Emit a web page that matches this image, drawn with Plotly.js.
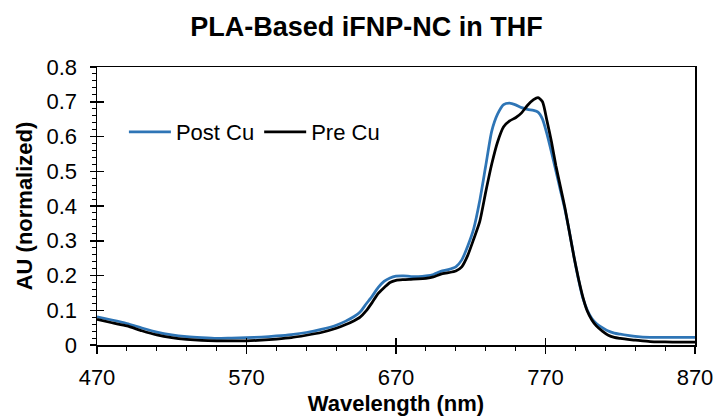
<!DOCTYPE html>
<html>
<head>
<meta charset="utf-8">
<script src="https://cdn.plot.ly/plotly-3.0.1.min.js"></script>
<style>html,body{margin:0;padding:0;background:#fff;}#chart{width:715px;height:418px;}</style>
</head>
<body>
<div id="chart"></div>
<script>
const wavelength = [470,480,490,500,510,520,530,540,550,560,570,580,590,600,610,620,630,636,642,646,650,654,658,662,666,670,675,680,685,690,695,700,705,710,714,718,722,726,730,734,738,742,746,750,754,758,762,765,768,771,774,777,780,783,786,789,792,795,798,801,804,808,812,816,820,825,830,840,850,860,870];
const postCu = [0.081,0.072,0.062,0.049,0.037,0.029,0.024,0.021,0.019,0.020,0.021,0.023,0.026,0.030,0.036,0.045,0.057,0.068,0.082,0.095,0.118,0.140,0.165,0.183,0.193,0.198,0.199,0.197,0.197,0.199,0.203,0.212,0.217,0.225,0.245,0.285,0.335,0.415,0.515,0.615,0.665,0.692,0.696,0.691,0.683,0.678,0.675,0.670,0.650,0.607,0.555,0.500,0.445,0.390,0.325,0.255,0.190,0.135,0.100,0.076,0.062,0.050,0.040,0.034,0.031,0.028,0.025,0.022,0.022,0.022,0.022];
const preCu = [0.074,0.064,0.055,0.041,0.029,0.021,0.016,0.013,0.012,0.012,0.012,0.014,0.017,0.021,0.028,0.036,0.048,0.058,0.070,0.080,0.098,0.122,0.148,0.165,0.180,0.186,0.188,0.189,0.190,0.192,0.196,0.204,0.208,0.213,0.225,0.258,0.305,0.355,0.440,0.520,0.585,0.628,0.645,0.654,0.668,0.690,0.706,0.712,0.700,0.645,0.585,0.515,0.455,0.395,0.325,0.255,0.192,0.138,0.097,0.072,0.055,0.040,0.028,0.022,0.019,0.016,0.014,0.010,0.009,0.008,0.008];
const seriesNames = ["Post Cu","Pre Cu"];
const xTicks = [470,570,670,770,870];
const yTicks = [0,0.1,0.2,0.3,0.4,0.5,0.6,0.7,0.8];
const yTickText = ["0","0.1","0.2","0.3","0.4","0.5","0.6","0.7","0.8"];

const FONT = "Liberation Sans, Arial, sans-serif";
const traces = [
  {x: wavelength, y: postCu, name: seriesNames[0], type: "scatter", mode: "lines",
   line: {color: "#2E75B6", width: 2.75, shape: "spline", smoothing: 0.6}},
  {x: wavelength, y: preCu, name: seriesNames[1], type: "scatter", mode: "lines",
   line: {color: "#000000", width: 2.75, shape: "spline", smoothing: 0.6}}
];
const layout = {
  width: 715, height: 418,
  margin: {l: 97, r: 20, t: 67, b: 73},
  paper_bgcolor: "#fff", plot_bgcolor: "#fff",
  font: {family: FONT, size: 22, color: "#000"},
  title: {text: "<b>PLA-Based iFNP-NC in THF</b>", font: {family: FONT, size: 27, color: "#000"},
          x: 0.5126, xanchor: "center", y: 0.937, yanchor: "middle"},
  showlegend: true,
  legend: {orientation: "h", x: 0.045, y: 0.766, xanchor: "left", yanchor: "middle", itemwidth: 42,
           font: {family: FONT, size: 22, color: "#000"}, bgcolor: "rgba(0,0,0,0)", traceorder: "normal"},
  xaxis: {range: [470, 870], tickmode: "array", tickvals: xTicks, ticktext: xTicks.map(String),
          ticks: "outside", ticklen: 7, tickwidth: 1.5, tickcolor: "#000",
          showline: true, linecolor: "#000", linewidth: 1.5, mirror: true,
          showgrid: false, zeroline: false, ticklabelstandoff: 5,
          minor: {dtick: 20, tick0: 470, ticks: "outside", ticklen: 4, tickwidth: 1, tickcolor: "#000", showgrid: false},
          title: {text: "<b>Wavelength (nm)</b>", font: {family: FONT, size: 22, color: "#000"}, standoff: 6}},
  yaxis: {range: [0, 0.8], tickmode: "array", tickvals: yTicks, ticktext: yTickText,
          ticks: "outside", ticklen: 6, tickwidth: 1.5, tickcolor: "#000",
          showline: true, linecolor: "#000", linewidth: 1.5, mirror: true,
          showgrid: false, zeroline: false, ticklabelstandoff: 8,
          minor: {dtick: 0.02, tick0: 0, ticks: "outside", ticklen: 4, tickwidth: 1, tickcolor: "#000", showgrid: false},
          title: {text: "<b>AU (normalized)</b>", font: {family: FONT, size: 22, color: "#000"}, standoff: 8}},
  xaxis2: {overlaying: "x", range: [470, 870], tickmode: "array", tickvals: xTicks, showticklabels: false,
           ticks: "inside", ticklen: 7, tickwidth: 1.5, tickcolor: "#000", showline: false, showgrid: false, zeroline: false},
  yaxis2: {overlaying: "y", side: "left", range: [0, 0.8], tickmode: "array", tickvals: yTicks, showticklabels: false,
           ticks: "inside", ticklen: 7, tickwidth: 1.5, tickcolor: "#000", showline: false, showgrid: false, zeroline: false}
};
traces.push({x: [470], y: [0], xaxis: "x2", yaxis: "y2", mode: "markers", marker: {opacity: 0}, showlegend: false, hoverinfo: "skip"});
Plotly.newPlot("chart", traces, layout, {displayModeBar: false, staticPlot: true});
</script>
</body>
</html>
